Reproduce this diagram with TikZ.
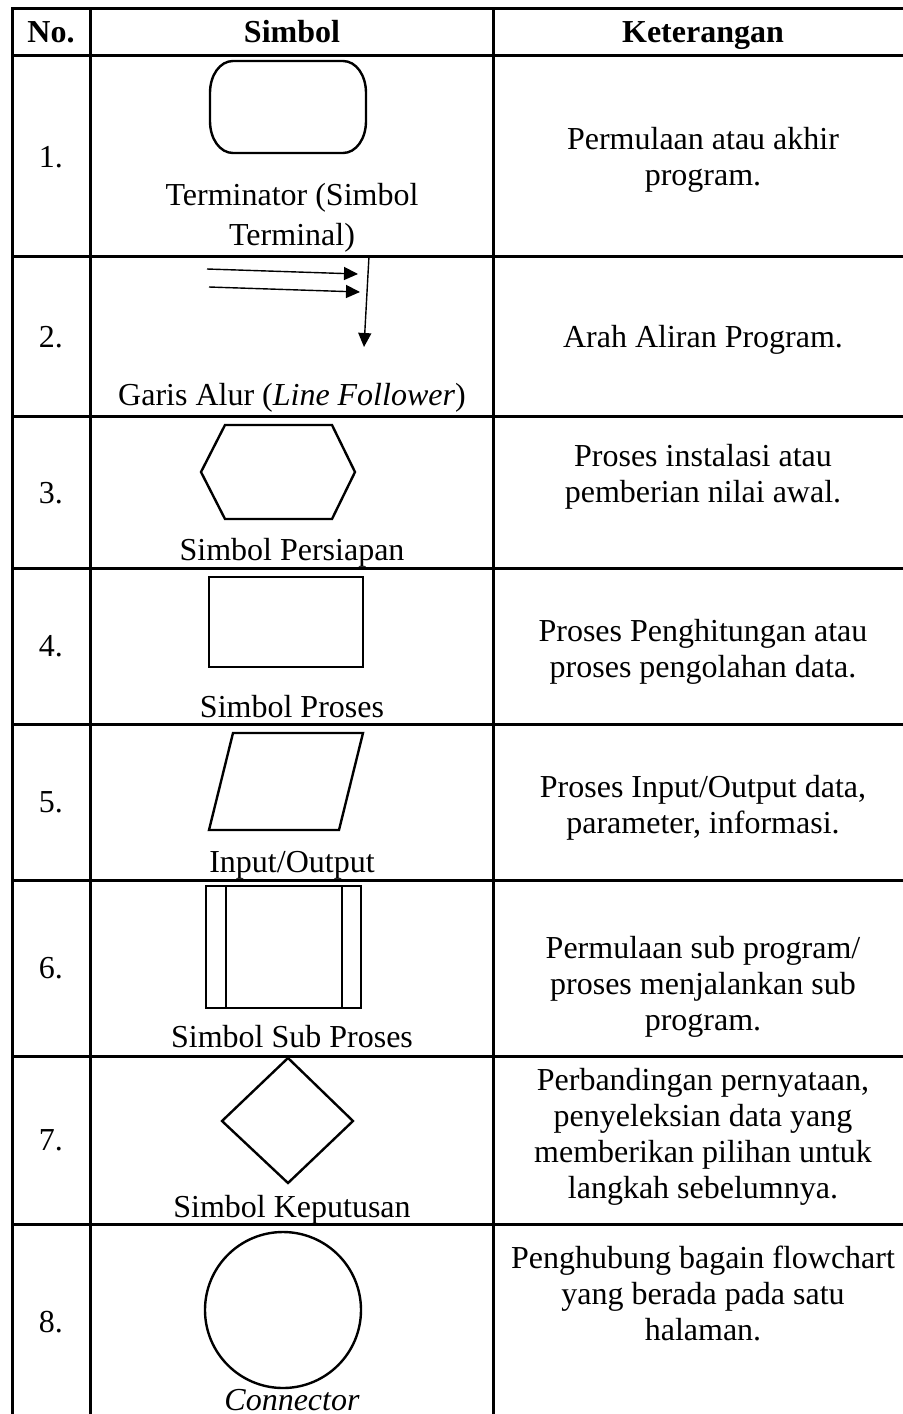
\documentclass[tikz,border=0pt]{standalone}
\usepackage{fontspec}
\setmainfont{Liberation Serif}
\usetikzlibrary{arrows.meta}
\tikzset{>={Triangle[length=7pt, width=6.5pt]}}

\begin{document}
\begin{tikzpicture}[x=0.5pt, y=-0.5pt, every node/.style={font=\fontsize{16}{18}\selectfont, align=center, inner sep=0pt, anchor=base},
  grid/.style={line width=1.5pt},
  sym/.style={line width=1.2pt, line join=miter},
  flow/.style={line width=0.7pt, ->},
  head/.style={font=\fontsize{16}{18}\selectfont\bfseries}]
\useasboundingbox (0,0) rectangle (902,1414);
% table
\draw[grid] (12,1414) -- (12,8) -- (920,8);
\draw[grid] (90,8) -- (90,1414);
\draw[grid] (493,8) -- (493,1414);
\foreach \y in {55,256,416,568,724,880,1056,1224}
  \draw[grid] (12,\y) -- (920,\y);

% header
\node[head] (hno) at (51,42) {No.};
\node[head] (hsym) at (292,42) {Simbol};
\node[head] (hket) at (703,42) {Keterangan};

% numbers
\foreach \n/\y in {1/167,2/347,3/503,4/656,5/812,6/978,7/1150,8/1332}
  \node (no\n) at (51,\y) {\n.};

% symbols
\draw[sym] (233,61) -- (343,61) .. controls (356,61) and (366,75) .. (366,93) -- (366,121)
  .. controls (366,139) and (356,153) .. (343,153) -- (233,153)
  .. controls (220,153) and (210,139) .. (210,121) -- (210,93)
  .. controls (210,75) and (220,61) .. (233,61) -- cycle;
\coordinate (ar1s) at (207,269); \coordinate (ar1e) at (358,274);
\coordinate (ar2s) at (209,287); \coordinate (ar2e) at (360,292);
\coordinate (ar3s) at (369,256); \coordinate (ar3e) at (364,347);
\draw[flow] (ar1s) -- (ar1e);
\draw[flow] (ar2s) -- (ar2e);
\draw[flow] (ar3s) -- (ar3e);
\draw[sym] (225,425) -- (332,425) -- (355,472) -- (332,519) -- (225,519) -- (201,472) -- cycle;
\draw[sym] (209,577) rectangle (363,667);
\draw[sym] (233,733) -- (363,733) -- (339,830) -- (209,830) -- cycle;
\draw[sym] (206,886) rectangle (361,1008);
\draw[sym] (226,886) -- (226,1008) (342,886) -- (342,1008);
\draw[sym] (288,1058) -- (353,1121) -- (288,1183) -- (222,1121) -- cycle;
\draw[sym] (283,1310) circle[radius=39pt];

% symbol names
\node (term) at (292,245) {Terminator (Simbol\\[2pt]Terminal)};
\node (garis) at (292,405) {Garis Alur (\textit{Line Follower})};
\node (siap) at (292,560) {Simbol Persiapan};
\node (proses) at (292,717) {Simbol Proses};
\node (io) at (292,872) {Input/Output};
\node (sub) at (292,1047) {Simbol Sub Proses};
\node (putus) at (292,1217) {Simbol Keputusan};
\node (conn) at (292,1410) {\textit{Connector}};

% keterangan
\node (ket1) at (703,185) {Permulaan atau akhir\\program.};
\node (ket2) at (703,347) {Arah Aliran Program.};
\node (ket3) at (703,502) {Proses instalasi atau\\pemberian nilai awal.};
\node (ket4) at (703,677) {Proses Penghitungan atau\\proses pengolahan data.};
\node (ket5) at (703,833) {Proses Input/Output data,\\parameter, informasi.};
\node (ket6) at (703,1030) {Permulaan sub program/\\proses menjalankan sub\\program.};
\node (ket7) at (703,1198) {Perbandingan pernyataan,\\penyeleksian data yang\\memberikan pilihan untuk\\langkah sebelumnya.};
\node (ket8) at (703,1340) {Penghubung bagain flowchart\\yang berada pada satu\\halaman.};
\end{tikzpicture}
\end{document}
